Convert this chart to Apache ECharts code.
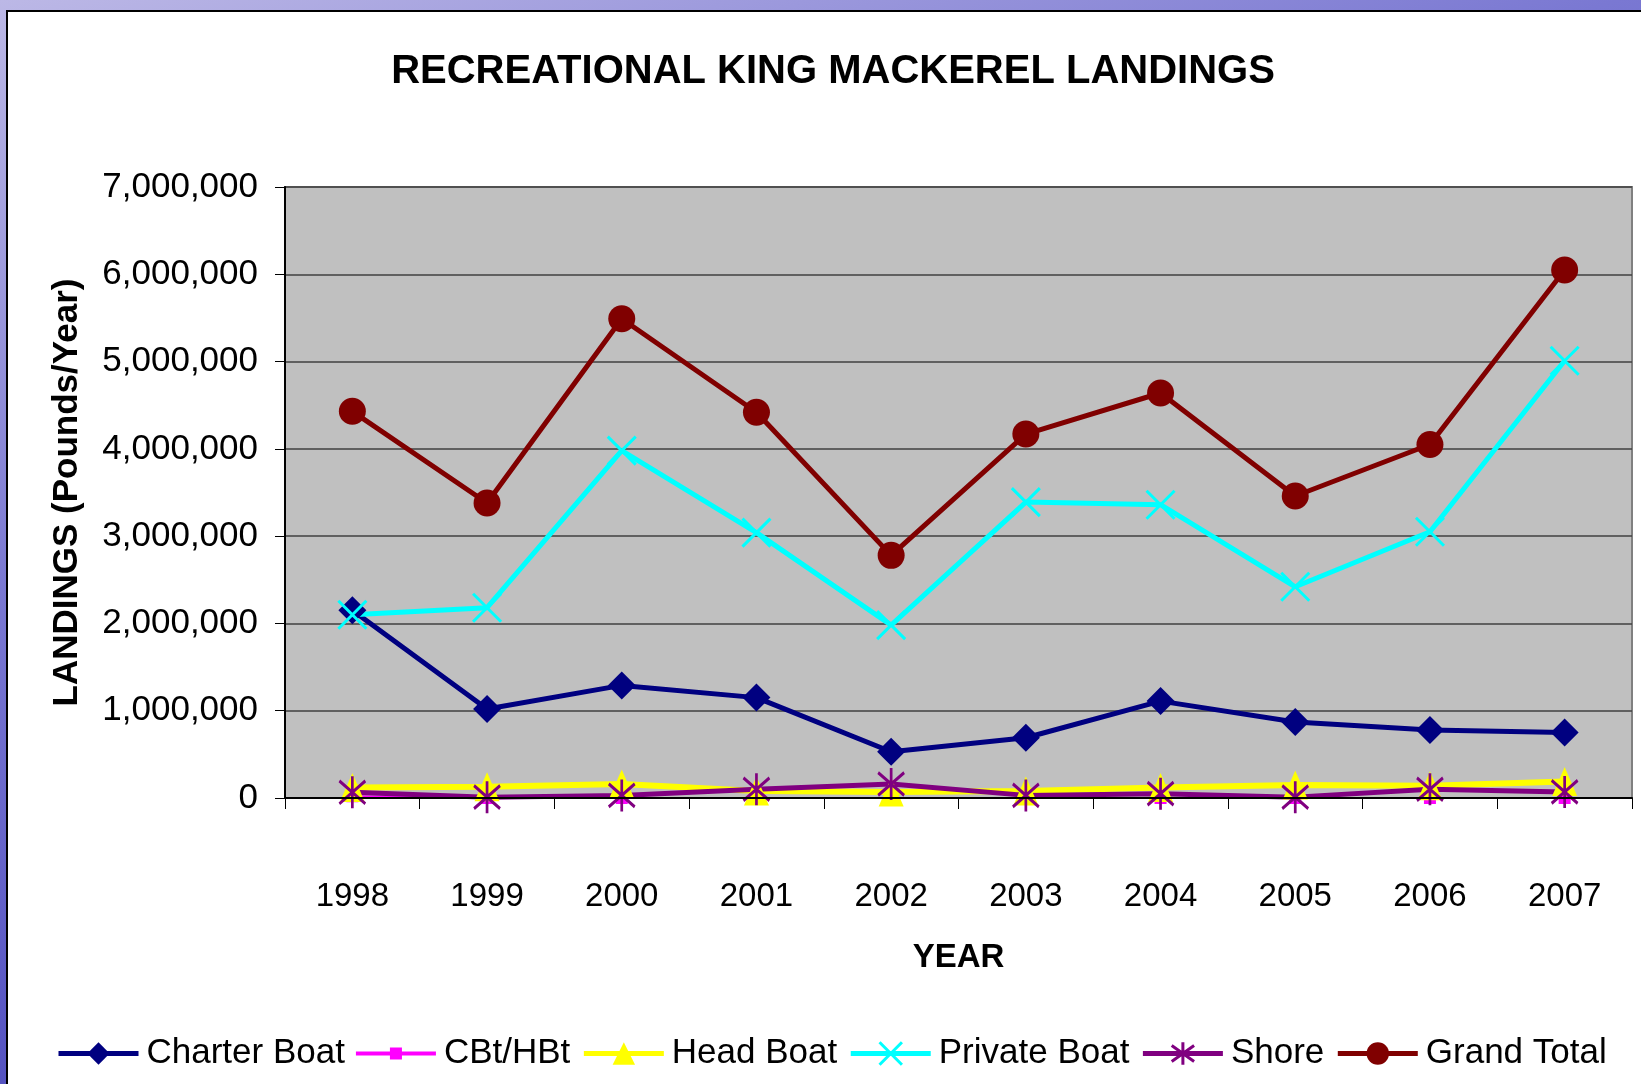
<!DOCTYPE html>
<html>
<head>
<meta charset="utf-8">
<script src="https://cdn.jsdelivr.net/npm/echarts@6/dist/echarts.min.js"></script>
<style>
  html, body { margin: 0; padding: 0; width: 1641px; height: 1084px; overflow: hidden; }
  body { background: linear-gradient(160deg, #bcb8e6 0%, #7a78d2 35%, #5a58c4 60%, #3232a0 100%); position: relative; }
  #frame { position: absolute; left: 6px; top: 10px; right: 0; bottom: 0; background: #fff; border-top: 2px solid #000; border-left: 2px solid #000; }
  #chart { position: absolute; left: 0; top: 0; width: 1641px; height: 1084px; }
</style>
</head>
<body>
<div id="frame"></div>
<div id="chart"></div>
<script>
const years = ['1998','1999','2000','2001','2002','2003','2004','2005','2006','2007'];
const charterBoat = [2150000, 1020000, 1290000, 1150000, 530000, 690000, 1110000, 870000, 780000, 750000];
const cbtHbt      = [20000, 0, 0, 0, 0, 0, 0, 0, 0, 0];
const headBoat    = [120000, 130000, 160000, 80000, 70000, 80000, 120000, 150000, 140000, 190000];
const privateBoat = [2100000, 2180000, 3980000, 3040000, 1980000, 3390000, 3360000, 2420000, 3050000, 5010000];
const shore       = [65000, 10000, 30000, 100000, 160000, 30000, 50000, 10000, 100000, 70000];
const grandTotal  = [4430000, 3380000, 5490000, 4420000, 2780000, 4170000, 4640000, 3460000, 4050000, 6050000];

const FONT = '"Liberation Sans", Arial, sans-serif';
const chart = echarts.init(document.getElementById('chart'), null, { renderer: 'canvas' });

function lineSeries(name, data, color, width, symbol, size, extra) {
  return Object.assign({
    name: name, type: 'line', data: data,
    symbol: symbol, symbolSize: size, showAllSymbol: true,
    lineStyle: { color: color, width: width },
    itemStyle: { color: color },
    emphasis: { disabled: true },
    z: 2
  }, extra || {});
}

const xPath = 'path://M0,0L10,10M10,0L0,10';
const starPath = 'path://M0,2L10,12M10,2L0,12M5,0L5,14';
const cbtLegendIcon = 'path://M0,0L0.01,0L0,0.01ZM80,28L79.99,28L80,27.99Z' +
  'M0,12L34,12L34,8L46,8L46,12L80,12L80,16L46,16L46,20L34,20L34,16L0,16Z';

chart.setOption({
  animation: false,
  backgroundColor: 'transparent',
  title: {
    text: 'RECREATIONAL KING MACKEREL LANDINGS',
    left: 828, top: 47, textAlign: 'center',
    textStyle: { fontFamily: FONT, fontWeight: 'bold', fontSize: 40, color: '#000' }
  },
  legend: {
    left: 51, top: 1031, width: 1585,
    itemWidth: 80, itemHeight: 28, itemGap: 11,
    lineStyle: { width: 5 },
    textStyle: { fontFamily: FONT, fontSize: 35, color: '#000', padding: [0, 0, 0, 3] },
    data: [
      'Charter Boat',
      { name: 'CBt/HBt', icon: cbtLegendIcon, itemStyle: { color: '#FF00FF' } },
      'Head Boat',
      { name: 'Private Boat', itemStyle: { borderWidth: 3 } },
      { name: 'Shore', itemStyle: { borderWidth: 3 } },
      'Grand Total'
    ]
  },
  grid: {
    left: 285, right: 9, top: 187, bottom: 286,
    show: true, backgroundColor: '#C0C0C0', borderColor: '#808080', borderWidth: 2
  },
  xAxis: {
    type: 'category', data: years, boundaryGap: true, z: 3,
    name: 'YEAR', nameLocation: 'middle', nameGap: 143,
    nameTextStyle: { fontFamily: FONT, fontWeight: 'bold', fontSize: 33, color: '#000' },
    axisLine: { lineStyle: { color: '#000', width: 2 } },
    axisTick: { show: true, alignWithLabel: false, length: 11, lineStyle: { color: '#000', width: 1 } },
    axisLabel: { fontFamily: FONT, fontSize: 33, color: '#000', margin: 82 },
    splitLine: { show: false }
  },
  yAxis: {
    type: 'value', min: 0, max: 7000000, interval: 1000000,
    name: 'LANDINGS (Pounds/Year)', nameLocation: 'middle', nameGap: 200,
    nameTextStyle: { fontFamily: FONT, fontWeight: 'bold', fontSize: 35, color: '#000' },
    axisLine: { show: true, lineStyle: { color: '#000', width: 2 } },
    axisTick: { show: true, length: 10, lineStyle: { color: '#000', width: 1 } },
    axisLabel: { fontFamily: FONT, fontSize: 35, color: '#000', margin: 27,
      formatter: v => v.toLocaleString('en-US') },
    splitLine: { show: true, lineStyle: { color: '#404040', width: 1.5 } }
  },
  series: [
    lineSeries('Charter Boat', charterBoat, '#000080', 5, 'diamond', 28),
    lineSeries('CBt/HBt', cbtHbt, '#FF00FF', 2, 'rect', 12),
    lineSeries('Head Boat', headBoat, '#FFFF00', 6, 'triangle', [25, 29]),
    lineSeries('Private Boat', privateBoat, '#00FFFF', 5, xPath, 28,
      { itemStyle: { color: '#00FFFF', borderColor: '#00FFFF', borderWidth: 3 } }),
    lineSeries('Shore', shore, '#800080', 5, starPath, [26, 32],
      { itemStyle: { color: '#800080', borderColor: '#800080', borderWidth: 3 } }),
    lineSeries('Grand Total', grandTotal, '#800000', 5, 'circle', 27)
  ]
});
</script>
</body>
</html>
